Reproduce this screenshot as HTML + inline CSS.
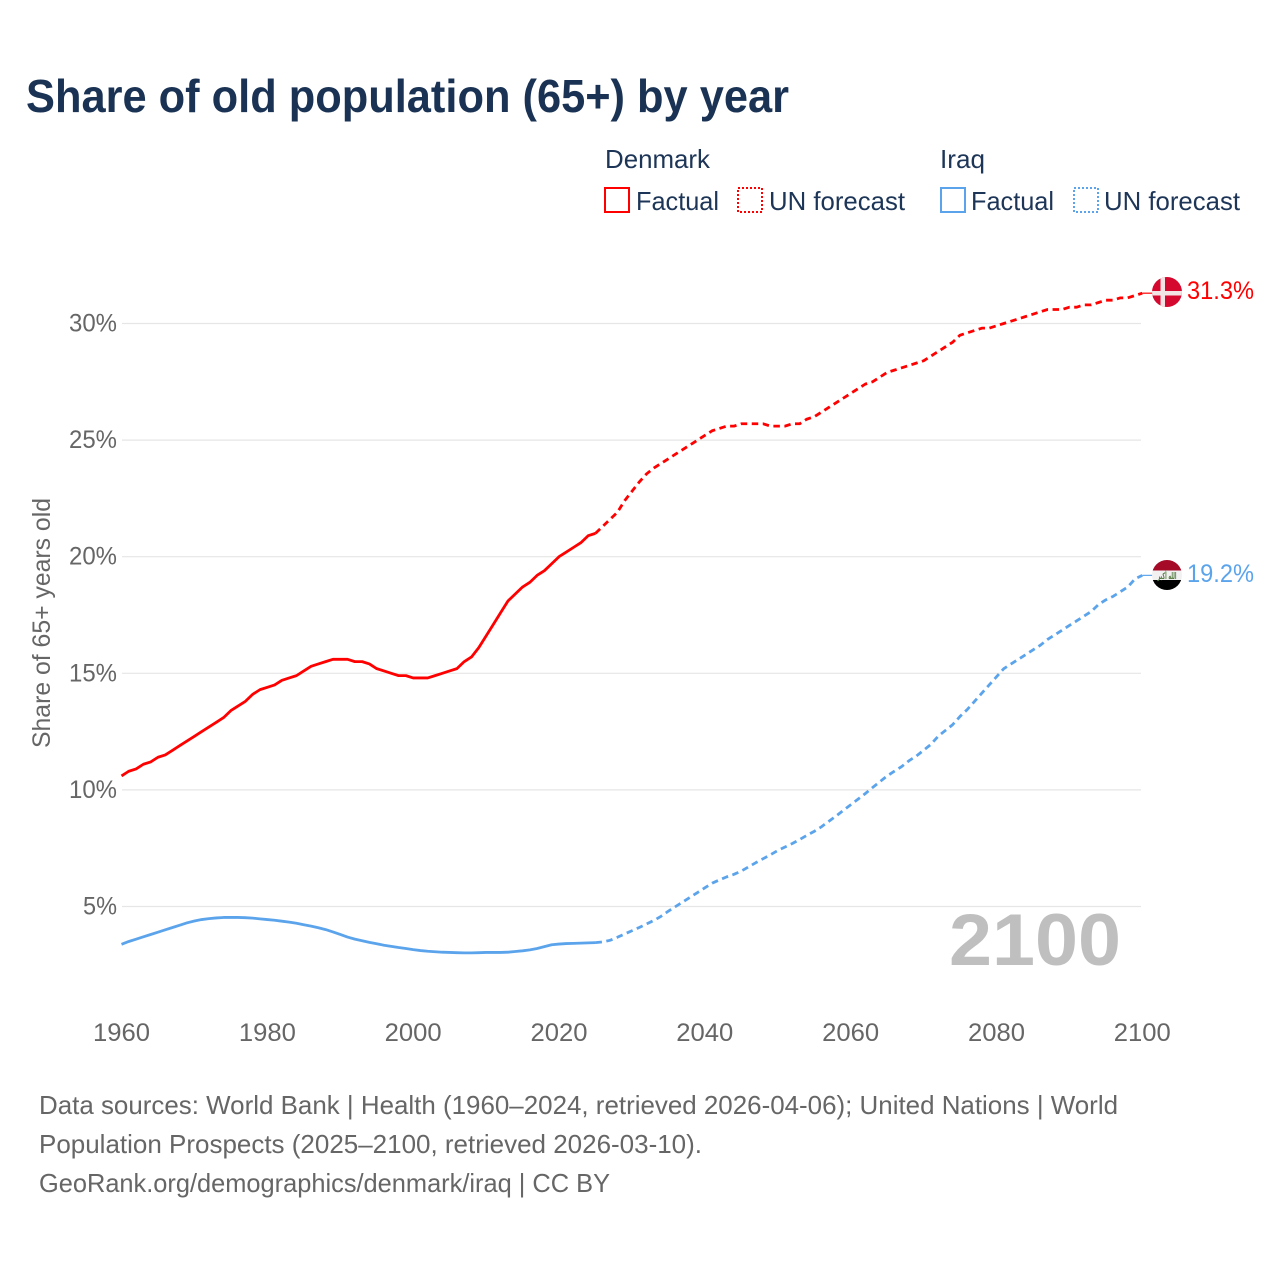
<!DOCTYPE html>
<html lang="en">
<head>
<meta charset="utf-8">
<title>Share of old population (65+) by year</title>
<style>
html,body{margin:0;padding:0;background:#fff;}
svg{display:block;font-family:"Liberation Sans",sans-serif;}
</style>
</head>
<body>
<svg id="chart" xmlns="http://www.w3.org/2000/svg" width="1280" height="1280" viewBox="0 0 1280 1280">
  <rect width="1280" height="1280" fill="#ffffff"/>
  <text x="26" y="112" font-size="46" font-weight="700" fill="#1a3253" textLength="763" lengthAdjust="spacingAndGlyphs">Share of old population (65+) by year</text>

  <g font-size="26" fill="#1d3557">
    <text x="605" y="168" textLength="105" lengthAdjust="spacingAndGlyphs">Denmark</text>
    <rect x="605" y="188" width="24" height="24" fill="none" stroke="#ff0000" stroke-width="2" shape-rendering="crispEdges"/>
    <text x="636" y="210" textLength="83" lengthAdjust="spacingAndGlyphs">Factual</text>
    <rect x="738" y="188" width="24" height="24" fill="none" stroke="#ff0000" stroke-width="2" stroke-dasharray="2 2" shape-rendering="crispEdges"/>
    <text x="769" y="210" textLength="136" lengthAdjust="spacingAndGlyphs">UN forecast</text>
    <text x="940" y="168" textLength="45" lengthAdjust="spacingAndGlyphs">Iraq</text>
    <rect x="941" y="188" width="24" height="24" fill="none" stroke="#5ba4ec" stroke-width="2" shape-rendering="crispEdges"/>
    <text x="971" y="210" textLength="83" lengthAdjust="spacingAndGlyphs">Factual</text>
    <rect x="1074" y="188" width="24" height="24" fill="none" stroke="#5ba4ec" stroke-width="2" stroke-dasharray="2 2" shape-rendering="crispEdges"/>
    <text x="1104" y="210" textLength="136" lengthAdjust="spacingAndGlyphs">UN forecast</text>
  </g>

  <g id="grid"></g>
  <g id="yTicks" font-size="25" fill="#666666"></g>
  <g id="xTicks" font-size="25" fill="#666666"></g>
  <text transform="translate(50,623) rotate(-90)" text-anchor="middle" font-size="25" fill="#666666" textLength="250" lengthAdjust="spacingAndGlyphs">Share of 65+ years old</text>

  <text x="949" y="965" font-size="73" font-weight="700" fill="#bfbfbf" textLength="172" lengthAdjust="spacingAndGlyphs">2100</text>

  <g id="series"></g>

  <g>
    <clipPath id="clipDk"><circle cx="1167" cy="292" r="15"/></clipPath>
    <g clip-path="url(#clipDk)">
      <rect x="1152" y="277" width="30" height="30" fill="#d5082f"/>
      <rect x="1160.5" y="277" width="4.5" height="30" fill="#f2e4e4"/>
      <rect x="1152" y="291" width="30" height="4.5" fill="#f2e4e4"/>
    </g>
  </g>
  <g>
    <clipPath id="clipIq"><circle cx="1167" cy="575" r="15"/></clipPath>
    <g clip-path="url(#clipIq)">
      <rect x="1152" y="560" width="30" height="10.5" fill="#a50a27"/>
      <rect x="1152" y="570.5" width="30" height="9.5" fill="#f1f1f1"/>
      <rect x="1152" y="580" width="30" height="10" fill="#000000"/>
      <text x="1167" y="579" text-anchor="middle" font-size="9" font-weight="700" fill="#4f7a3a" textLength="19" lengthAdjust="spacingAndGlyphs" style="font-family:'DejaVu Sans',sans-serif">الله أكبر</text>
    </g>
  </g>

  <text id="labelDk" x="1187" y="299" font-size="25" fill="#ff0000" textLength="67" lengthAdjust="spacingAndGlyphs">31.3%</text>
  <text id="labelIq" x="1187" y="582" font-size="25" fill="#5ba4ec" textLength="67" lengthAdjust="spacingAndGlyphs">19.2%</text>

  <g font-size="26" fill="#666666">
    <text x="39" y="1114" textLength="1079" lengthAdjust="spacingAndGlyphs">Data sources: World Bank | Health (1960–2024, retrieved 2026-04-06); United Nations | World</text>
    <text x="39" y="1153" textLength="663" lengthAdjust="spacingAndGlyphs">Population Prospects (2025–2100, retrieved 2026-03-10).</text>
    <text x="39" y="1192" textLength="571" lengthAdjust="spacingAndGlyphs">GeoRank.org/demographics/denmark/iraq | CC BY</text>
  </g>
</svg>

<script>
const xTickYears = [1960, 1980, 2000, 2020, 2040, 2060, 2080, 2100];
const yTickValues = [5, 10, 15, 20, 25, 30];
const factualStartYear = 1960;
const forecastStartYear = 2025;
const denmarkFactual = [
  10.6,10.8,10.9,11.1,11.2,11.4,11.5,11.7,11.9,12.1,
  12.3,12.5,12.7,12.9,13.1,13.4,13.6,13.8,14.1,14.3,
  14.4,14.5,14.7,14.8,14.9,15.1,15.3,15.4,15.5,15.6,
  15.6,15.6,15.5,15.5,15.4,15.2,15.1,15.0,14.9,14.9,
  14.8,14.8,14.8,14.9,15.0,15.1,15.2,15.5,15.7,16.1,
  16.6,17.1,17.6,18.1,18.4,18.7,18.9,19.2,19.4,19.7,
  20.0,20.2,20.4,20.6,20.9,21.0
];
const denmarkForecast = [
  21.0,21.3,21.6,21.9,22.4,22.8,23.2,23.55,23.8,24.0,
  24.2,24.4,24.6,24.8,25.0,25.2,25.4,25.5,25.6,25.6,
  25.7,25.7,25.7,25.7,25.6,25.6,25.6,25.7,25.7,25.9,
  26.0,26.2,26.4,26.6,26.8,27.0,27.2,27.4,27.5,27.7,
  27.9,28.0,28.1,28.2,28.3,28.4,28.6,28.8,29.0,29.2,
  29.5,29.6,29.7,29.8,29.8,29.9,30.0,30.1,30.2,30.3,
  30.4,30.5,30.6,30.6,30.6,30.7,30.7,30.8,30.8,30.9,
  31.0,31.0,31.1,31.1,31.2,31.3
];
const iraqFactual = [
  3.38,3.50,3.60,3.70,3.80,3.90,4.00,4.10,4.20,4.30,
  4.38,4.44,4.48,4.51,4.53,4.53,4.53,4.52,4.50,4.47,
  4.44,4.41,4.37,4.33,4.28,4.22,4.16,4.09,4.01,3.91,
  3.80,3.69,3.60,3.53,3.46,3.40,3.34,3.29,3.24,3.20,
  3.15,3.11,3.08,3.06,3.04,3.03,3.02,3.01,3.01,3.02,
  3.03,3.03,3.03,3.04,3.07,3.10,3.14,3.20,3.28,3.36,
  3.39,3.41,3.42,3.43,3.44,3.45
];
const iraqForecast = [
  3.45,3.48,3.55,3.68,3.82,3.96,4.10,4.25,4.40,4.58,
  4.80,5.00,5.20,5.40,5.60,5.80,6.00,6.14,6.27,6.38,
  6.52,6.70,6.88,7.05,7.22,7.40,7.55,7.70,7.87,8.05,
  8.22,8.42,8.65,8.88,9.12,9.36,9.60,9.84,10.10,10.35,
  10.60,10.80,11.00,11.25,11.45,11.70,11.95,12.30,12.55,12.80,
  13.15,13.45,13.80,14.15,14.50,14.85,15.20,15.40,15.60,15.80,
  16.00,16.20,16.45,16.65,16.85,17.05,17.25,17.45,17.65,17.95,
  18.15,18.30,18.50,18.70,19.05,19.20
];

const SVG_NS = "http://www.w3.org/2000/svg";
const xScale = year => 121.5 + (year - 1960) * (1142.3 - 121.5) / 140;
const yScale = value => 1023.1 - value * 23.32;

function make(tag, parent, attrs) {
  const el = document.createElementNS(SVG_NS, tag);
  Object.keys(attrs).forEach(k => el.setAttribute(k, attrs[k]));
  parent.appendChild(el);
  return el;
}

const gridGroup = document.getElementById("grid");
const yGroup = document.getElementById("yTicks");
yTickValues.forEach(v => {
  const line = make("line", gridGroup, {x1: 122, x2: 1141, y1: yScale(v), y2: yScale(v), stroke: "#e6e6e6", "stroke-width": 1.2});
  
  
  const label = make("text", yGroup, {x: 117, y: yScale(v) + 8, "text-anchor": "end", textLength: v < 10 ? 34 : 48, lengthAdjust: "spacingAndGlyphs"});
  
  
  label.textContent = v + "%";
});

const xGroup = document.getElementById("xTicks");
xTickYears.forEach(year => {
  const label = make("text", xGroup, {x: xScale(year), y: 1041, "text-anchor": "middle", textLength: 57, lengthAdjust: "spacingAndGlyphs"});
  
  
  label.textContent = year;
});

function linePath(values, startYear) {
  return values.map((v, i) => (i ? "L" : "M") + xScale(startYear + i).toFixed(2) + " " + yScale(v).toFixed(2)).join(" ");
}

const seriesGroup = document.getElementById("series");
function drawLine(values, startYear, color, dashed, name) {
  const attrs = {d: linePath(values, startYear), fill: "none", stroke: color, "stroke-width": 2.8, "stroke-linejoin": "round"};
  if (dashed) attrs["stroke-dasharray"] = "6.5 4.5";
  const path = make("path", seriesGroup, attrs);
  
  
}
drawLine(denmarkFactual, factualStartYear, "#ff0000", false, "denmark-factual-line");
drawLine(denmarkForecast, forecastStartYear, "#ff0000", true, "denmark-forecast-line");
drawLine(iraqFactual, factualStartYear, "#5ba4ec", false, "iraq-factual-line");
drawLine(iraqForecast, forecastStartYear, "#5ba4ec", true, "iraq-forecast-line");

function drawConnector(value, color, name) {
  const y = yScale(value);
  const stub = make("line", seriesGroup, {x1: xScale(2100), x2: 1153, y1: y, y2: y, stroke: color, "stroke-width": 1.2});
  
  
}
drawConnector(denmarkForecast[denmarkForecast.length - 1], "#ff0000", "denmark-flag-connector");
drawConnector(iraqForecast[iraqForecast.length - 1], "#5ba4ec", "iraq-flag-connector");

document.getElementById("labelDk").textContent = denmarkForecast[denmarkForecast.length - 1].toFixed(1) + "%";
document.getElementById("labelIq").textContent = iraqForecast[iraqForecast.length - 1].toFixed(1) + "%";
</script>
</body>
</html>
